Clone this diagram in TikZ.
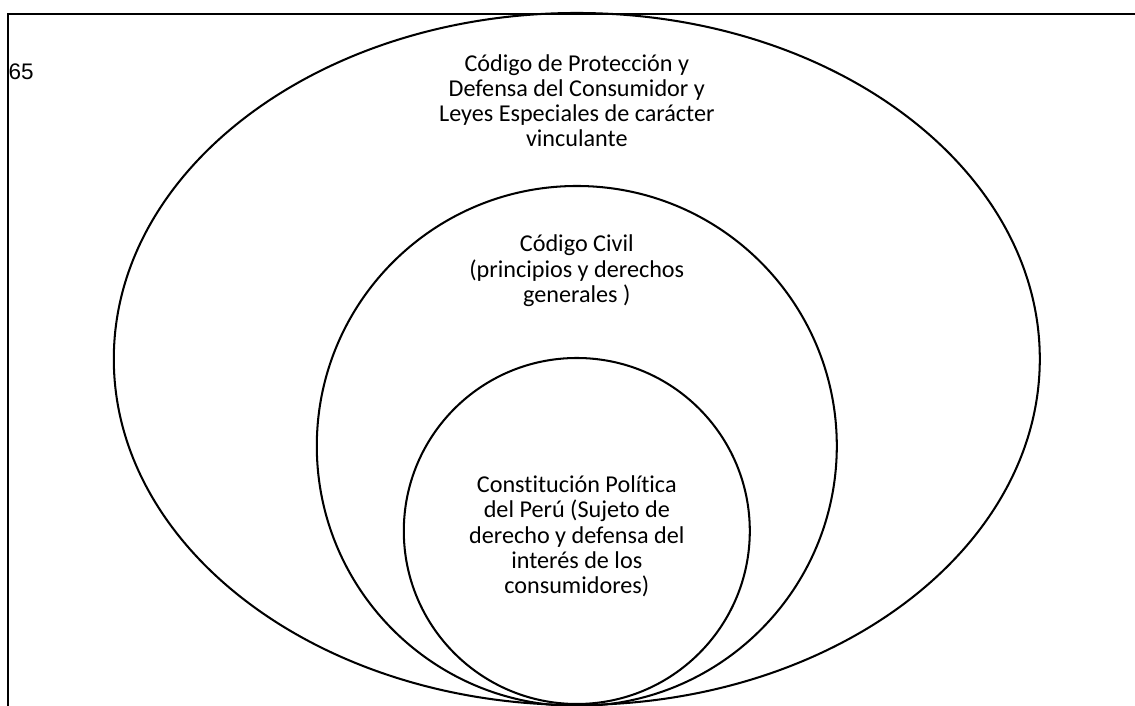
\documentclass[tikz,border=0pt]{standalone}
\usepackage{fontspec}
\setmainfont{Carlito}[Ligatures=NoCommon]
\newfontfamily\arialfont{Liberation Sans}
\usetikzlibrary{positioning}

\begin{document}
\begin{tikzpicture}[
  ring/.style={draw=black, line width=1.45pt},
  frameline/.style={draw=black, line width=1.35pt},
  ringlabel/.style={align=center, font=\fontsize{17.2}{17.9}\selectfont, inner sep=0pt},
]
\def\cx{14.42} % common centre line

% Page area
\useasboundingbox (0,0) rectangle (28.375,17.65);

% Frame (top and left edge only)
\coordinate (ftl) at (0.2,17.31);
\coordinate (ftr) at (28.375,17.31);
\coordinate (fbl) at (0.2,0);
\draw[frameline] (ftr) -- (ftl) -- (fbl);

% Page number
\node[font=\arialfont\fontsize{16}{18}\selectfont, anchor=west, inner sep=0pt] (pagenum) at (0.21,15.85) {65};

% Nested rings
\draw[ring] (\cx,8.675) ellipse (11.575 and 8.65);
\draw[ring] (\cx,6.5) circle (6.5);
\draw[ring] (\cx,4.375) circle (4.325);

% Labels
\node[ringlabel] (codigo) at (\cx,15.13) {Código de Protección y\\Defensa del Consumidor y\\Leyes Especiales de carácter\\vinculante};
\node[ringlabel] (civil) at (\cx,10.88) {Código Civil\\(principios y derechos\\generales )};
\node[ringlabel] (constitucion) at (\cx,4.24) {Constitución Política\\del Perú (Sujeto de\\derecho y defensa del\\interés de los\\consumidores)};
\end{tikzpicture}
\end{document}
